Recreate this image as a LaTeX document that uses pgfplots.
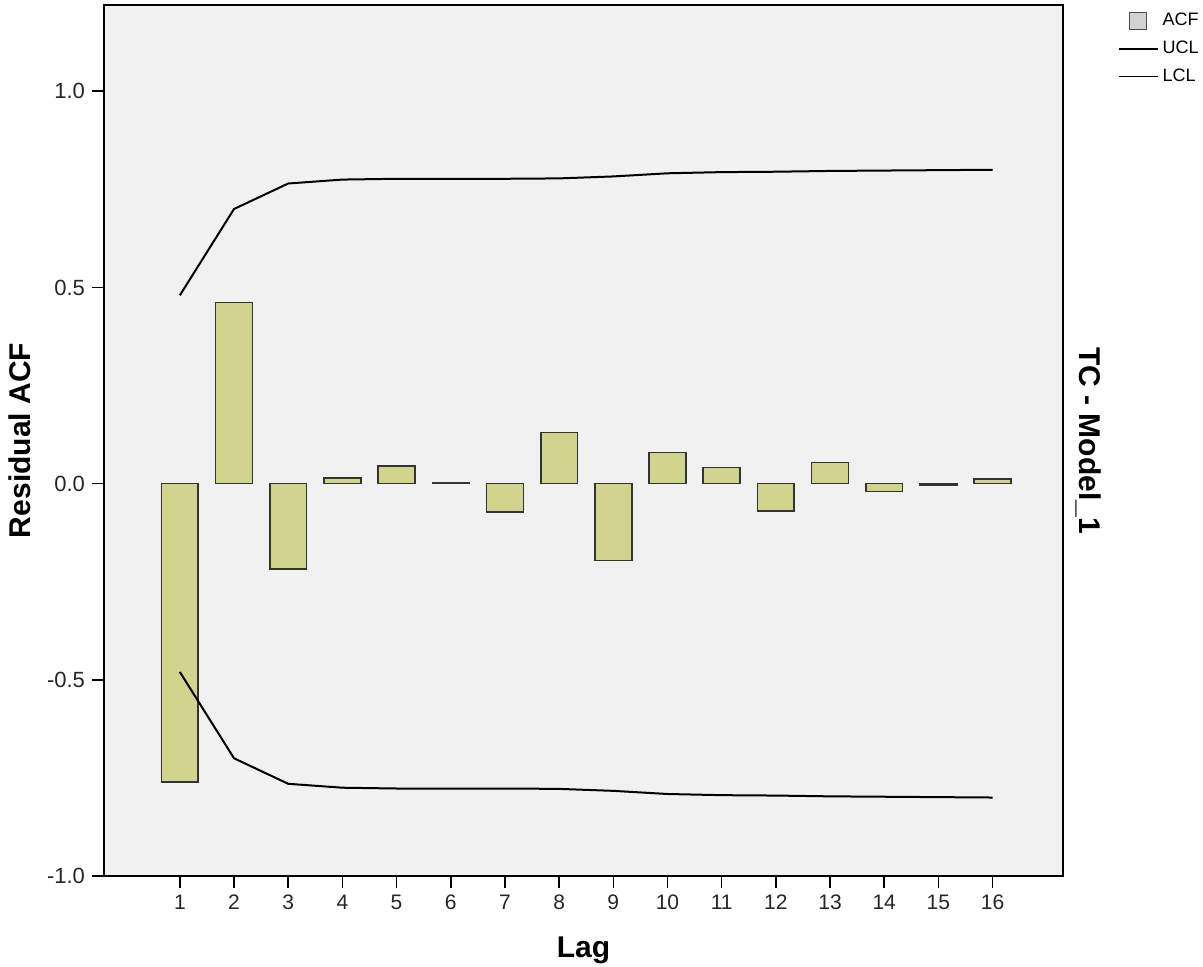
\documentclass[border=0pt]{standalone}
\usepackage{fontspec}
\setmainfont{Liberation Sans}
\usepackage{pgfplots}
\pgfplotsset{compat=1.18}
\definecolor{barfill}{RGB}{208,212,140}
\definecolor{plotbg}{RGB}{241,241,241}
\begin{document}
\begin{tikzpicture}
\useasboundingbox (0pt,0pt) rectangle (601.5pt,483.5pt);
\begin{axis}[
  at={(52pt,45.5pt)}, anchor=south west,
  scale only axis, width=479.5pt, height=435.5pt,
  xmin=-0.4, xmax=17.3, ymin=-1.0, ymax=1.22,
  clip=false,
  axis background/.style={fill=plotbg},
  axis line style={black, line width=0.8pt},
  xtick={1,...,16},
  ytick={-1,-0.5,0,0.5,1},
  tick align=outside, tick pos=left,
  major tick length=6pt,
  tick style={black, line width=0.8pt},
  /pgf/number format/assume math mode=true,
  yticklabel style={/pgf/number format/fixed, /pgf/number format/precision=1, /pgf/number format/fixed zerofill, font=\fontsize{11}{13}\selectfont, text=black!85},
  xticklabel style={font=\fontsize{10.5}{12}\selectfont, text=black!85},
  ylabel={\textbf{Residual ACF}},
  ylabel style={at={(axis description cs:-0.077,0.5)}, anchor=base, font=\fontsize{15}{17}\selectfont},
  xlabel={\textbf{Lag}},
  xlabel style={at={(axis description cs:0.5,-0.093)}, anchor=base, font=\fontsize{15}{17}\selectfont},
  legend style={at={(axis description cs:1.057,1.0)}, anchor=north west, draw=none, fill=none,
    font=\fontsize{9}{11}\selectfont, row sep=2pt, inner xsep=0pt, inner ysep=2pt},
  legend cell align=left,
]
\addplot[ybar, bar width=0.68, fill=barfill, draw=black!80, line width=0.8pt,
  legend image code/.code={\draw[fill=gray!35, draw=black!70, line width=0.6pt] (5.5pt,-4.3pt) rectangle (14pt,4.3pt);}]
  coordinates {(1,-0.76) (2,0.462) (3,-0.217) (4,0.015) (5,0.045) (6,0.003) (7,-0.073) (8,0.130)
   (9,-0.196) (10,0.079) (11,0.041) (12,-0.069) (13,0.054) (14,-0.020) (15,-0.004) (16,0.012)};
\addlegendentry{ACF}
\addplot[black, line width=1pt, sharp plot, mark=none,
  legend image code/.code={\draw[black, line width=0.8pt] (0pt,0pt) -- (19.5pt,0pt);}]
  coordinates {(1,0.48) (2,0.70) (3,0.765) (4,0.775) (5,0.777) (6,0.777) (7,0.777) (8,0.778)
   (9,0.783) (10,0.791) (11,0.794) (12,0.795) (13,0.797) (14,0.798) (15,0.799) (16,0.80)};
\addlegendentry{UCL}
\addplot[black, line width=1pt, sharp plot, mark=none,
  legend image code/.code={\draw[black, line width=0.8pt] (0pt,0pt) -- (19.5pt,0pt);}]
  coordinates {(1,-0.48) (2,-0.70) (3,-0.765) (4,-0.775) (5,-0.777) (6,-0.777) (7,-0.777) (8,-0.778)
   (9,-0.783) (10,-0.791) (11,-0.794) (12,-0.795) (13,-0.797) (14,-0.798) (15,-0.799) (16,-0.80)};
\addlegendentry{LCL}
\node[rotate=-90, anchor=base, font=\fontsize{15}{17}\selectfont\bfseries] at (axis description cs:1.0177,0.5) {TC - Model\_1};
\end{axis}
\end{tikzpicture}
\end{document}
